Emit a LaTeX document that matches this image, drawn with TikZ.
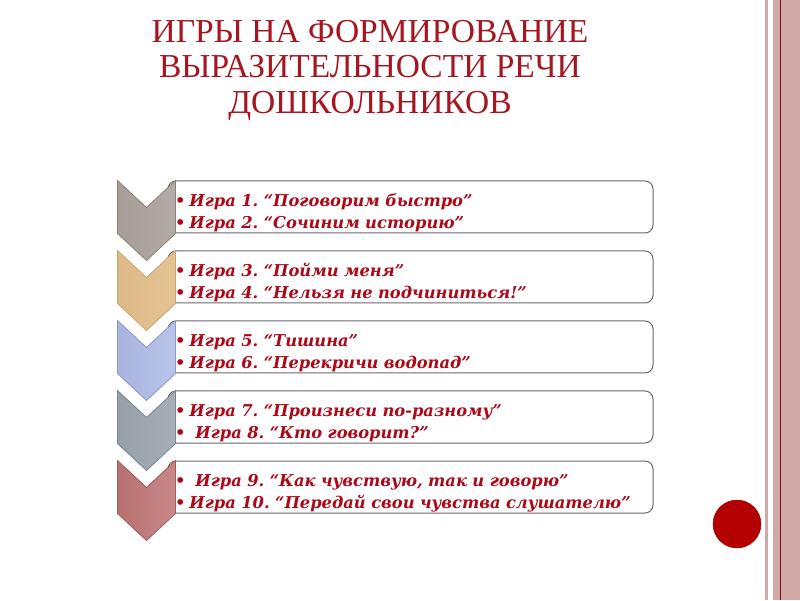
\documentclass[tikz,border=0pt]{standalone}
\usepackage{fontspec}
\setmainfont{Liberation Serif}
\newfontfamily\itemfont{DejaVu Serif}
\usetikzlibrary{positioning}

\definecolor{titlered}{RGB}{165,22,32}
\definecolor{itemred}{RGB}{172,8,24}
\definecolor{boxline}{RGB}{105,105,105}
\definecolor{stripe}{RGB}{208,168,168}
\definecolor{stripeline}{RGB}{130,10,20}
\definecolor{dotred}{RGB}{180,0,0}

\frenchspacing
\begin{document}
\begin{tikzpicture}[
  x=1pt, y=1pt,
  title/.style={font=\fontsize{33.5}{35.5}\selectfont, text=titlered, align=center},
  game/.style={rectangle, rounded corners=8pt, draw=boxline, line width=1pt, fill=white, minimum width=485pt, minimum height=52pt, text width=471pt, inner xsep=7pt, inner ysep=0pt, align=left, font=\itemfont\fontsize{16.3}{22}\selectfont\bfseries\itshape, text=itemred, execute at begin node={\rule{0pt}{25pt}}},
  chev/.style={line width=0.8pt},
  chevA/.style={draw={rgb,255:red,140;green,128;blue,124}, left color={rgb,255:red,168;green,156;blue,152}, middle color={rgb,255:red,226;green,220;blue,216}, right color={rgb,255:red,180;green,170;blue,166}},
  chevB/.style={draw={rgb,255:red,200;green,165;blue,115}, left color={rgb,255:red,222;green,185;blue,135}, middle color={rgb,255:red,246;green,230;blue,205}, right color={rgb,255:red,228;green,195;blue,148}},
  chevC/.style={draw={rgb,255:red,140;green,152;blue,200}, left color={rgb,255:red,168;green,180;blue,222}, middle color={rgb,255:red,220;green,226;blue,246}, right color={rgb,255:red,184;green,196;blue,232}},
  chevD/.style={draw={rgb,255:red,125;green,132;blue,142}, left color={rgb,255:red,150;green,158;blue,168}, middle color={rgb,255:red,214;green,218;blue,222}, right color={rgb,255:red,166;green,174;blue,184}},
  chevE/.style={draw={rgb,255:red,160;green,92;blue,92}, left color={rgb,255:red,184;green,112;blue,112}, middle color={rgb,255:red,234;green,198;blue,198}, right color={rgb,255:red,200;green,136;blue,136}}
]
\useasboundingbox (0,0) rectangle (800,600);

% Title
\node[title] (heading) at (370,530) {ИГРЫ НА ФОРМИРОВАНИЕ\\ВЫРАЗИТЕЛЬНОСТИ РЕЧИ\\ДОШКОЛЬНИКОВ};

% Game boxes
\node[game] (game1) at (410.5,393) {\textbullet\hspace{4pt}Игра 1. “Поговорим быстро”\\\textbullet\hspace{4pt}Игра 2. “Сочиним историю”};
\node[game, below=17pt of game1] (game2) {\textbullet\hspace{4pt}Игра 3. “Пойми меня”\\\textbullet\hspace{4pt}Игра 4. “Нельзя не подчиниться!”};
\node[game, below=17pt of game2] (game3) {\textbullet\hspace{4pt}Игра 5. “Тишина”\\\textbullet\hspace{4pt}Игра 6. “Перекричи водопад”};
\node[game, below=17pt of game3] (game4) {\textbullet\hspace{4pt}Игра 7. “Произнеси по-разному”\\\textbullet\hspace{10pt}Игра 8. “Кто говорит?”};
\node[game, below=17pt of game4] (game5) {\textbullet\hspace{10pt}Игра 9. “Как чувствую, так и говорю”\\\textbullet\hspace{4pt}Игра 10. “Передай свои чувства слушателю”};

% Chevrons
\path[chev, chevA] ([xshift=-50pt]game1.north west) -- ++(29,-27) -- ++(29,27) -- ++(0,-53) -- ++(-29,-27) -- ++(-29,27) -- cycle;
\path[chev, chevB] ([xshift=-50pt]game2.north west) -- ++(29,-27) -- ++(29,27) -- ++(0,-53) -- ++(-29,-27) -- ++(-29,27) -- cycle;
\path[chev, chevC] ([xshift=-50pt]game3.north west) -- ++(29,-27) -- ++(29,27) -- ++(0,-53) -- ++(-29,-27) -- ++(-29,27) -- cycle;
\path[chev, chevD] ([xshift=-50pt]game4.north west) -- ++(29,-27) -- ++(29,27) -- ++(0,-53) -- ++(-29,-27) -- ++(-29,27) -- cycle;
\path[chev, chevE] ([xshift=-50pt]game5.north west) -- ++(29,-27) -- ++(29,27) -- ++(0,-53) -- ++(-29,-27) -- ++(-29,27) -- cycle;

% Side stripes and dot
\fill[stripe] (765,0) rectangle (768,600);
\fill[stripe] (773,0) rectangle (800,600);
\draw[stripeline, line width=1pt] (780.5,0) -- (780.5,600);
\node[circle, fill=dotred, draw=dotred!80!black, minimum size=48pt, inner sep=0pt] (dot) at (737,76) {};

\end{tikzpicture}
\end{document}
